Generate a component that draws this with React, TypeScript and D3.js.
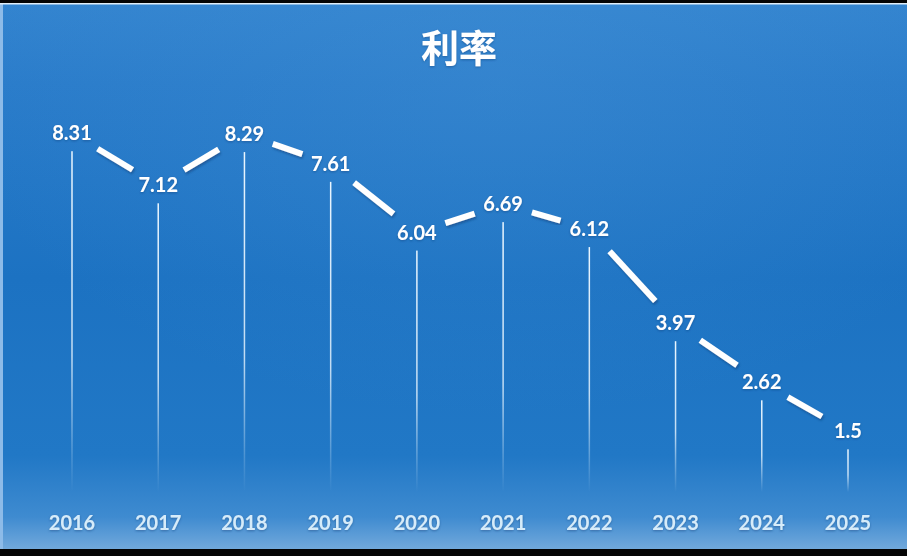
import React from "react";
import * as d3 from "d3";

const years = ["2016", "2017", "2018", "2019", "2020", "2021", "2022", "2023", "2024", "2025"];
const rates = [8.31, 7.12, 8.29, 7.61, 6.04, 6.69, 6.12, 3.97, 2.62, 1.5];
const title = "利率";

const W = 907;
const H = 556;

export default function App() {
  const x = d3.scalePoint<string>().domain(years).range([72, 848]);
  const y = d3.scaleLinear().domain([0, 9]).range([497, 103]);
  const pts = years.map((yr, i) => ({ yr, v: rates[i], px: x(yr) as number, py: y(rates[i]) }));
  const gap = 30;
  const segs = pts.slice(1).map((p, i) => {
    const a = pts[i];
    const dx = p.px - a.px;
    const dy = p.py - a.py;
    const len = Math.hypot(dx, dy);
    const ux = dx / len;
    const uy = dy / len;
    const line = d3.line();
    return line([
      [a.px + ux * gap, a.py + uy * gap],
      [p.px - ux * gap, p.py - uy * gap],
    ]) as string;
  });
  const dropBottom = 492;
  const font = "Lato, 'Open Sans', 'Liberation Sans', sans-serif";

  return (
    <svg width={W} height={H} style={{ position: "absolute", left: 0, top: 0, display: "block" }}>
      <defs>
        <linearGradient id="bg" x1="0" y1="0" x2="0" y2="1">
          <stop offset="0" stopColor="#3384cf" />
          <stop offset="0.15" stopColor="#2a7cca" />
          <stop offset="0.5" stopColor="#1c72c2" />
          <stop offset="0.82" stopColor="#2178c6" />
          <stop offset="0.93" stopColor="#3f8bd0" />
          <stop offset="0.99" stopColor="#74aadc" />
        </linearGradient>
        <radialGradient id="glow" cx="0.55" cy="0.15" r="0.6">
          <stop offset="0" stopColor="#4a96d8" stopOpacity="0.3" />
          <stop offset="1" stopColor="#4a96d8" stopOpacity="0" />
        </radialGradient>
        <linearGradient id="drop" x1="0" y1="0" x2="0" y2="1">
          <stop offset="0" stopColor="#eaf6ff" stopOpacity="1" />
          <stop offset="0.6" stopColor="#eaf6ff" stopOpacity="0.8" />
          <stop offset="1" stopColor="#eaf6ff" stopOpacity="0" />
        </linearGradient>
        <filter id="sh" x="-20%" y="-50%" width="140%" height="200%">
          <feDropShadow dx="1" dy="2" stdDeviation="1.2" floodColor="#0a3c78" floodOpacity="0.55" />
        </filter>
        <filter id="tg" x="-20%" y="-40%" width="140%" height="180%">
          <feDropShadow dx="0" dy="1" stdDeviation="1" floodColor="#0a3c78" floodOpacity="0.5" />
        </filter>
      </defs>
      <rect x={0} y={0} width={W} height={H} fill="url(#bg)" />
      <rect x={0} y={0} width={W} height={H} fill="url(#glow)" />
      <rect x={0} y={0} width={3} height={H} fill="#8dbbe8" />
      <rect x={0} y={0} width={W} height={3} fill="#050505" />
      <rect x={0} y={3} width={W} height={1.5} fill="#dfeefa" />
      <rect x={0} y={549} width={W} height={H - 549} fill="#050505" />

      <text x={459} y={62} textAnchor="middle" fill="#ffffff" fontSize={38} fontWeight={700}
        fontFamily="'Noto Sans CJK SC', sans-serif" filter="url(#tg)">{title}</text>

      {pts.map((p) => (
        <rect key={"d" + p.yr} x={p.px - 0.75} y={p.py + 18} width={1.5}
          height={dropBottom - (p.py + 18)} fill="url(#drop)" />
      ))}

      {segs.map((d, i) => (
        <path key={"s" + i} d={d} stroke="#ffffff" strokeWidth={6} fill="none" strokeLinecap="butt" filter="url(#sh)" />
      ))}

      {pts.map((p) => (
        <text key={"l" + p.yr} x={p.px} y={p.py + 7} textAnchor="middle" fill="#ffffff"
          fontSize={20} fontWeight={700} fontFamily={font} filter="url(#tg)">{p.v}</text>
      ))}

      {pts.map((p) => (
        <text key={"x" + p.yr} x={p.px} y={530} textAnchor="middle" fill="#d6ecfa"
          fontSize={20} fontWeight={700} fontFamily={font} filter="url(#tg)">{p.yr}</text>
      ))}
    </svg>
  );
}
